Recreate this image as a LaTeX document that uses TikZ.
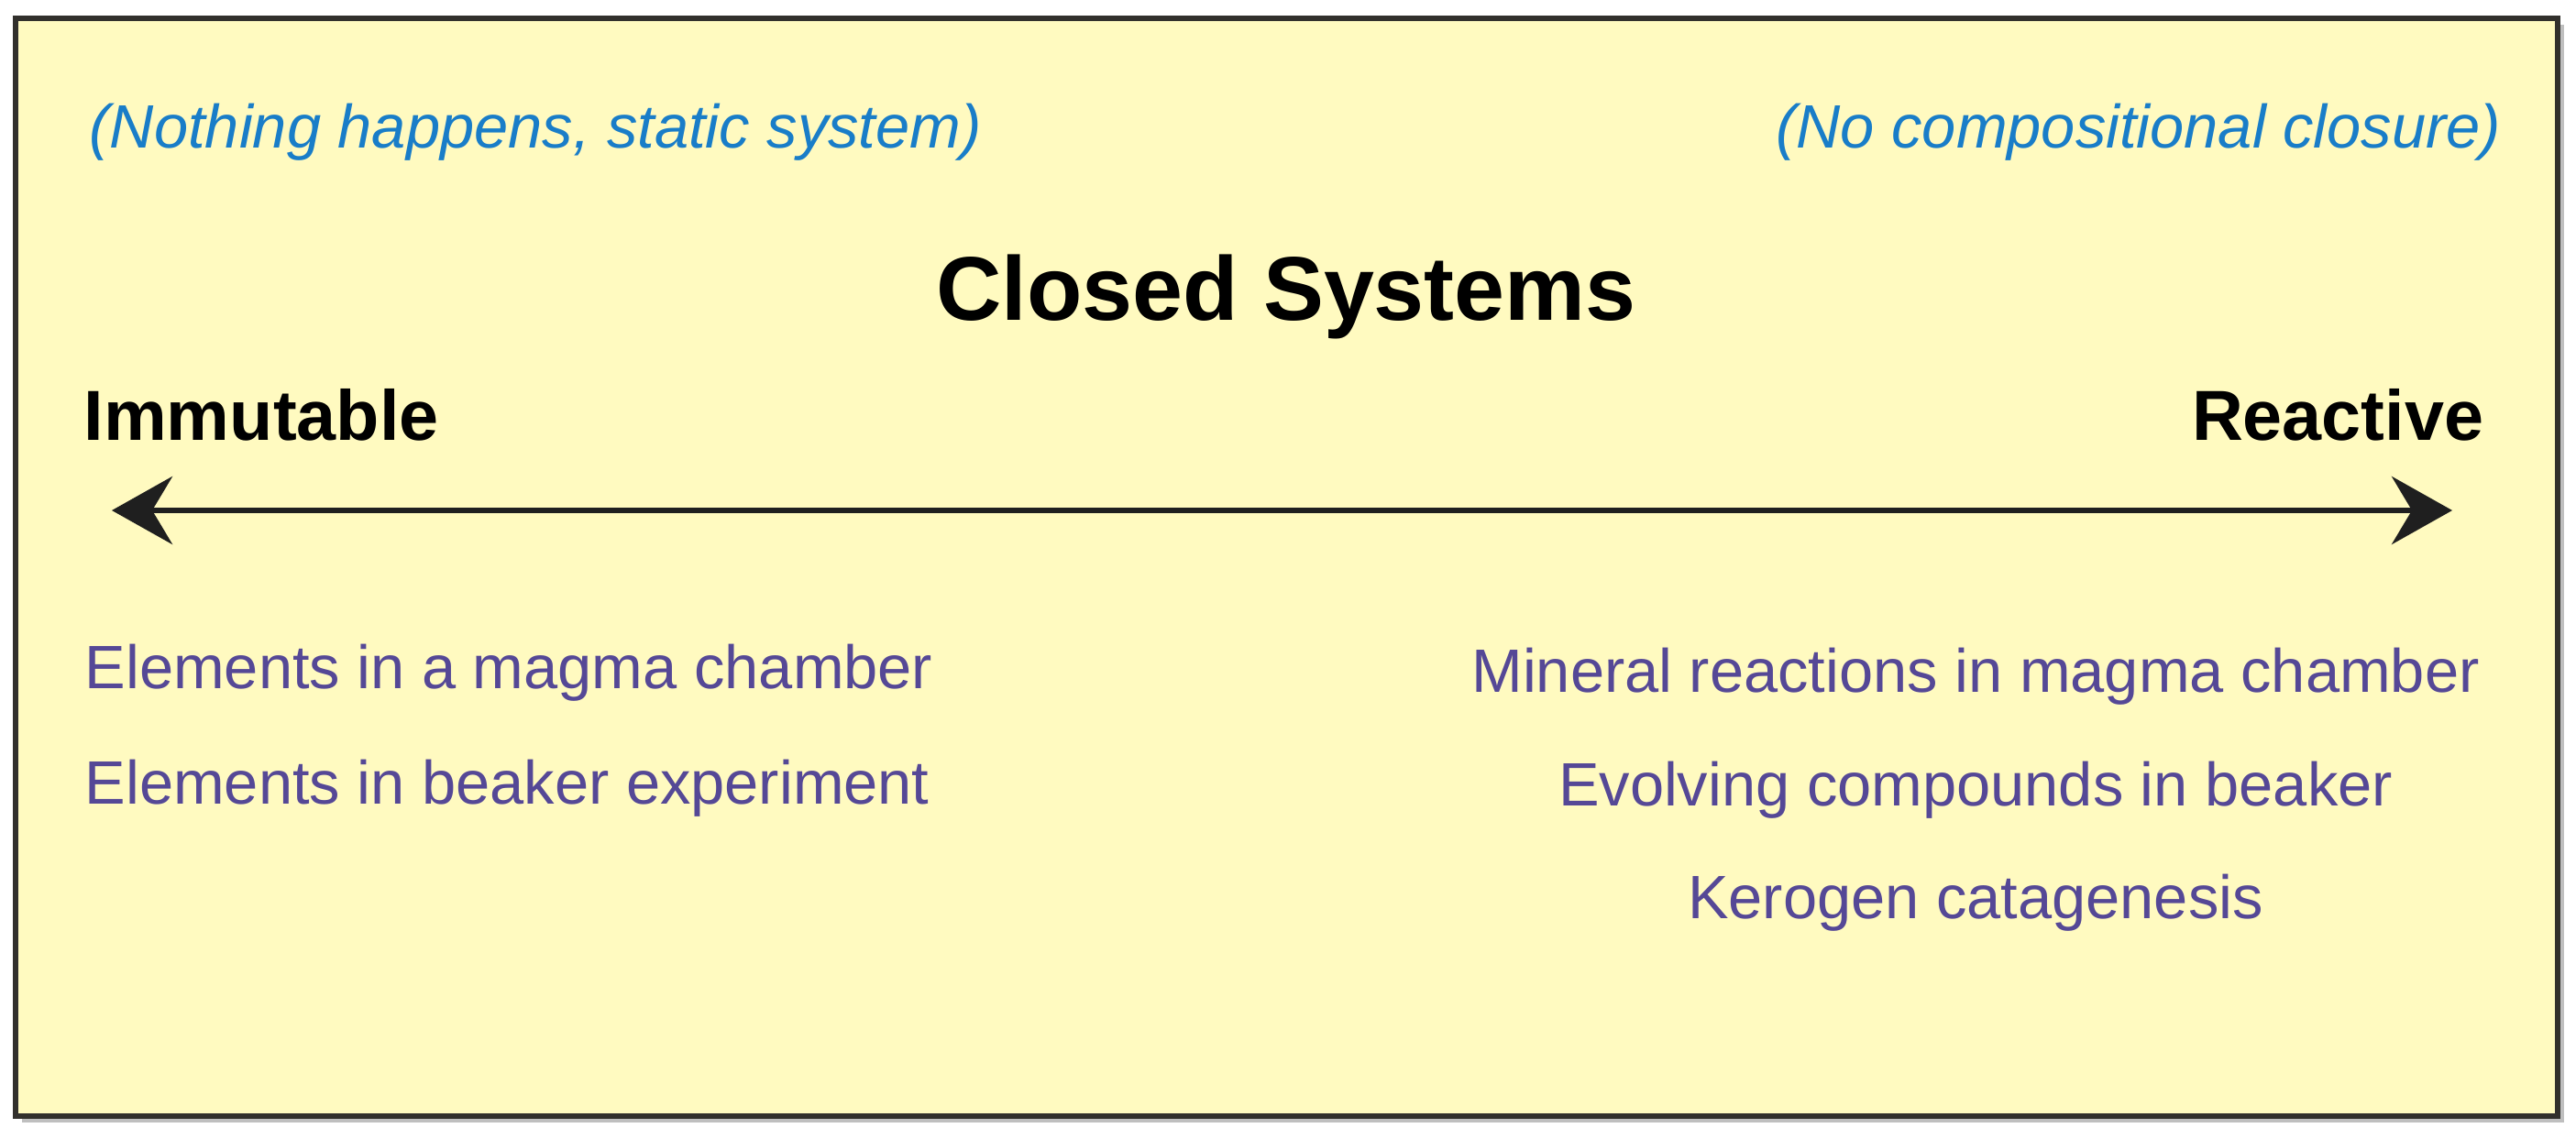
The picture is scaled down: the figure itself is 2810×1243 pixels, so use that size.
\documentclass[tikz,border=0pt]{standalone}
\usepackage{fontspec}
\setmainfont{Liberation Sans}
\usetikzlibrary{arrows.meta}
\definecolor{bgyellow}{RGB}{255,250,192}
\definecolor{framegray}{RGB}{50,48,44}
\definecolor{noteblue}{RGB}{25,125,200}
\definecolor{itempurple}{RGB}{85,72,150}
\tikzset{
  note/.style={inner sep=0pt, text=noteblue, font=\fontsize{19pt}{22pt}\selectfont\itshape},
  item/.style={inner sep=0pt, text=itempurple, font=\fontsize{19pt}{22pt}\selectfont},
  pole/.style={inner sep=0pt, text=black, font=\fontsize{22pt}{26pt}\selectfont\bfseries},
  heading/.style={inner sep=0pt, text=black, font=\fontsize{28.1pt}{32pt}\selectfont\bfseries},
  scale arrow/.style={line width=0.06cm, draw=black!88,
    {Stealth[length=0.66cm,width=0.74cm,inset=0.22cm]}-{Stealth[length=0.66cm,width=0.74cm,inset=0.22cm]}}
}
\begin{document}
\begin{tikzpicture}[x=0.01cm,y=-0.01cm]
\useasboundingbox (0,0) rectangle (2810,1243);
% shadow and frame
\fill[black!25] (24,27) rectangle (2797,1225);
\draw[fill=bgyellow, draw=framegray, line width=0.065cm] (17,20) rectangle (2790,1218);
% notes
\node[note, anchor=base west] (n1) at (97,162) {(Nothing happens, static system)};
\node[note, anchor=base east] (n2) at (2729,162) {(No compositional closure)};
% heading
\node[heading, anchor=base] (title) at (1403,350) {Closed Systems};
% poles
\node[pole, anchor=base west] (imm) at (91,480) {Immutable};
\node[pole, anchor=base east] (rea) at (2710,480) {Reactive};
% arrow
\coordinate (L) at (122,557);
\coordinate (R) at (2675,557);
\draw[scale arrow] (L) -- (R);
% items
\node[item, anchor=base west] (l1) at (92,751) {Elements in a magma chamber};
\node[item, anchor=base west] (l2) at (92,877) {Elements in beaker experiment};
\node[item, anchor=base] (r1) at (2155,755) {Mineral reactions in magma chamber};
\node[item, anchor=base] (r2) at (2155,879) {Evolving compounds in beaker};
\node[item, anchor=base] (r3) at (2155,1002) {Kerogen catagenesis};
\end{tikzpicture}
\end{document}
